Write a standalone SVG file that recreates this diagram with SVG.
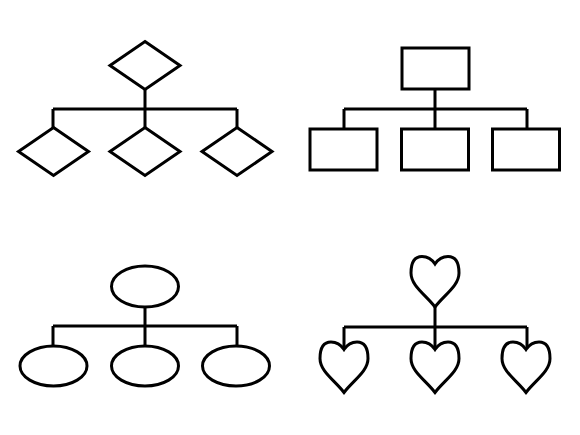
<svg xmlns="http://www.w3.org/2000/svg" xmlns:xlink="http://www.w3.org/1999/xlink" width="580" height="435" viewBox="0 0 580 435">
<style>
.s{fill:#fff;stroke:#000;stroke-width:3;stroke-linejoin:miter}
.c{fill:none;stroke:#000;stroke-width:3}
</style>
<defs>
<path id="heart" d="M0,0 C-4,-6 -9,-7.5 -13,-7.5 C-20,-7.5 -24,-2 -24,9 C-24,22 -9,31 0,43 C9,31 24,22 24,9 C24,-2 20,-7.5 13,-7.5 C9,-7.5 4,-6 0,0 Z"/>
<polygon id="dia" points="0,-24 35,0 0,24 -35,0"/>
</defs>
<rect width="580" height="435" fill="#fff"/>
<g id="connectors">
<path class="c" d="M145,89 V109 M53,109 H237 M53,109 V128 M145,109 V128 M237,109 V128"/>
<path class="c" d="M435,89 V109 M344,109 H527 M344,109 V129 M435,109 V129 M527,109 V129"/>
<path class="c" d="M145,306 V326 M53,326 H237 M53,326 V346 M145,326 V346 M237,326 V346"/>
<path class="c" d="M435,307 V327 M344,327 H527 M344,327 V349 M435,327 V349 M527,327 V349"/>
</g>
<g id="d-top"><use href="#dia" class="s" x="145" y="65.5"/></g>
<g id="d-left"><use href="#dia" class="s" x="53.5" y="151.5"/></g>
<g id="d-mid"><use href="#dia" class="s" x="145" y="151.5"/></g>
<g id="d-right"><use href="#dia" class="s" x="237" y="151.5"/></g>
<g id="r-top"><rect class="s" x="402" y="48" width="67" height="41"/></g>
<g id="r-left"><rect class="s" x="310" y="129" width="67" height="41"/></g>
<g id="r-mid"><rect class="s" x="401.5" y="129" width="67" height="41"/></g>
<g id="r-right"><rect class="s" x="492.5" y="129" width="67" height="41"/></g>
<g id="e-top"><ellipse class="s" cx="145" cy="286.5" rx="33.5" ry="20.5"/></g>
<g id="e-left"><ellipse class="s" cx="53.5" cy="366" rx="33.5" ry="20"/></g>
<g id="e-mid"><ellipse class="s" cx="145" cy="366" rx="33.5" ry="20"/></g>
<g id="e-right"><ellipse class="s" cx="236" cy="366" rx="33.5" ry="20"/></g>
<g id="h-top"><use href="#heart" class="s" x="435" y="264"/></g>
<g id="h-left"><use href="#heart" class="s" x="344" y="349.5"/></g>
<g id="h-mid"><use href="#heart" class="s" x="435" y="349.5"/></g>
<g id="h-right"><use href="#heart" class="s" x="526" y="349.5"/></g>
</svg>
